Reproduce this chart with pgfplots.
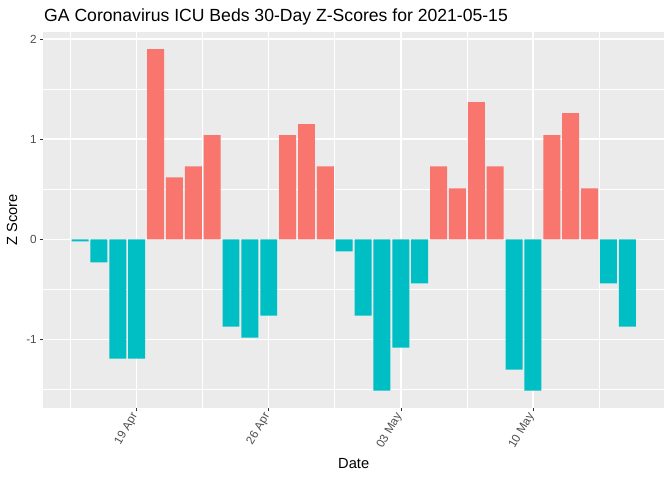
\documentclass[border=0pt]{standalone}
\usepackage{pgfplots}
\pgfplotsset{compat=1.18}
\usepackage{fontspec}
\setmainfont{Liberation Sans}
\definecolor{ggred}{HTML}{F8766D}
\definecolor{ggcyan}{HTML}{00BFC4}
\definecolor{ggbg}{HTML}{EBEBEB}
\definecolor{ggtext}{HTML}{4D4D4D}
\definecolor{ggtick}{HTML}{333333}

\begin{document}
\begin{tikzpicture}
\useasboundingbox (0,0) rectangle (504pt,360pt);
\begin{axis}[
  at={(32.5pt,54.2pt)}, anchor=south west,
  scale only axis,
  width=465.5pt, height=281.8pt,
  xmin=-1.945, xmax=30.945,
  ymin=-1.68, ymax=2.07,
  ybar, bar width=0.9, bar shift=0pt,
  axis background/.style={fill=ggbg},
  axis line style={draw=none},
  xtick={3,10,17,24},
  xticklabels={19 Apr,26 Apr,03 May,10 May},
  minor xtick={-0.5,6.5,13.5,20.5,27.5},
  ytick={-1,0,1,2},
  yticklabels={-1,0,1,2},
  minor ytick={-1.5,-0.5,0.5,1.5},
  xtick pos=bottom, ytick pos=left,
  tick align=outside,
  major tick length=2.75pt, minor tick length=0pt,
  every tick/.style={ggtick, line width=0.5pt},
  grid=both,
  major grid style={white, line width=1.07pt},
  minor grid style={white, line width=0.53pt},
  /pgf/number format/assume math mode=true,
  tick label style={font=\fontsize{8.8}{10}\selectfont, text=ggtext},
  xticklabel style={rotate=60, anchor=east, inner sep=2pt},
  yticklabel style={inner sep=2pt},
  xlabel={Date},
  ylabel={Z Score},
  label style={font=\fontsize{11}{13}\selectfont},
  xlabel style={at={(axis description cs:0.5,0)}, anchor=center, yshift=-41.5pt},
  ylabel style={at={(axis description cs:-0.0505,0.5)}, anchor=center},
  title={GA Coronavirus ICU Beds 30-Day Z-Scores for 2021-05-15},
  title style={at={(axis description cs:0.001,1.018)}, anchor=west, font=\fontsize{13.2}{15}\selectfont, inner sep=0pt},
]
% positive z-scores
\addplot[fill=ggred, draw=none] coordinates {
(4,1.90) (5,0.62) (6,0.73) (7,1.04)
(11,1.04) (12,1.15) (13,0.73)
(19,0.73) (20,0.51) (21,1.37) (22,0.73)
(25,1.04) (26,1.26) (27,0.51)
};
% negative z-scores
\addplot[fill=ggcyan, draw=none] coordinates {
(0,-0.02) (1,-0.23) (2,-1.19) (3,-1.19)
(8,-0.87) (9,-0.98) (10,-0.76)
(14,-0.12) (15,-0.76) (16,-1.51) (17,-1.08) (18,-0.44)
(23,-1.30) (24,-1.51)
(28,-0.44) (29,-0.87)
};
\end{axis}
\end{tikzpicture}
\end{document}
